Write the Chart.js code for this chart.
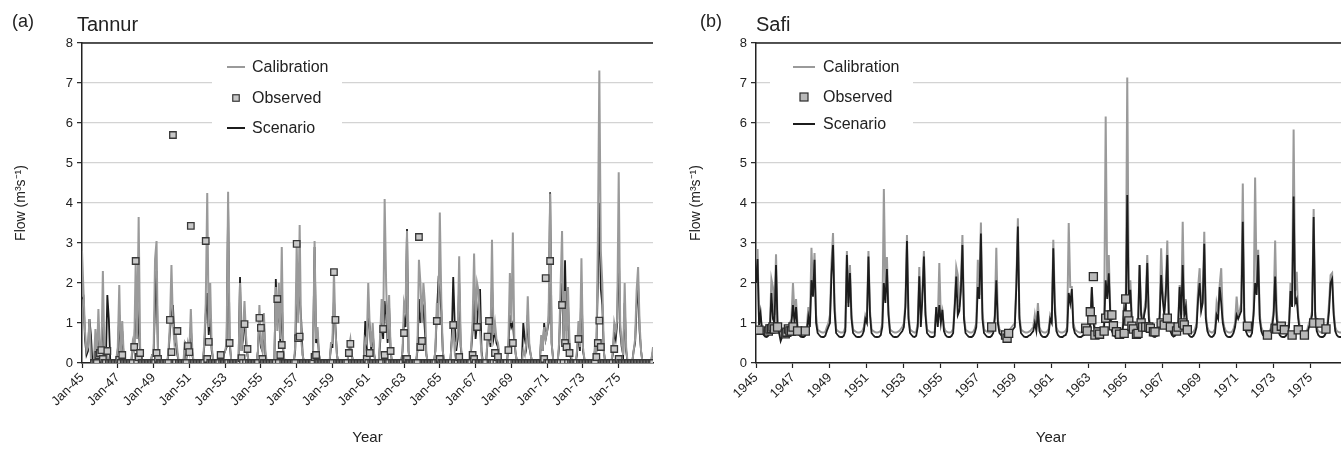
<!DOCTYPE html>
<html>
<head>
<meta charset="utf-8">
<script src="https://cdn.jsdelivr.net/npm/chart.js@4.4.1/dist/chart.umd.min.js"></script>
<style>
  html, body { margin: 0; padding: 0; background: #fff; width: 1341px; height: 453px; overflow: hidden; position: relative; }
  canvas { position: absolute; top: 0; }
  #tannur { left: 0; }
  #safi { left: 680px; }
  .panel-tag, .panel-name { position: absolute; font-family: 'Liberation Sans', Arial, sans-serif; color: #222; line-height: 22px; }
  .panel-tag { font-size: 18px; }
  .panel-name { font-size: 20px; }
</style>
</head>
<body>
<canvas id="tannur" width="670" height="453"></canvas>
<canvas id="safi" width="680" height="453"></canvas>
<div class="panel-tag" style="left:12px; top:10px;">(a)</div>
<div class="panel-name" style="left:77px; top:13px;">Tannur</div>
<div class="panel-tag" style="left:700px; top:10px;">(b)</div>
<div class="panel-name" style="left:756px; top:13px;">Safi</div>
<script>
// Monthly flows, January 1945 to December 1976, one row of twelve months per year.
const tickLabelsTannur = ['Jan-45','Jan-47','Jan-49','Jan-51','Jan-53','Jan-55','Jan-57','Jan-59',
  'Jan-61','Jan-63','Jan-65','Jan-67','Jan-69','Jan-71','Jan-73','Jan-75'];
const tickLabelsSafi = ['1945','1947','1949','1951','1953','1955','1957','1959',
  '1961','1963','1965','1967','1969','1971','1973','1975'];

const calibrationTannur = [
  2.8,1.8,0.8,0.3,0.4,1.1,0.1,0,0,0.85,0.1,1.35,
  0.3,0.2,2.3,0.3,0,0.2,0,0,0,0,0,0.1,
  0.4,1.95,0.2,1.05,0.2,0,0,0,0,0,0.5,0.3,
  2.5,0.6,3.65,0.4,0.1,0,0,0,0,0,0,0.2,
  0.2,2.6,3.05,0.2,0,0,0,0,0,0,0.3,1.0,
  2.45,1.0,0.5,0.7,0.3,0,0,0,0,0.55,0.2,0.5,
  0.3,1.35,0.3,0,0,0,0,0,0,0,0.5,1.5,
  4.25,0.9,2.0,0.4,0.1,0,0,0,0,0,0,0.2,
  0.3,0.5,4.28,0.6,0.1,0,0,0,0,0,2.0,0.3,
  0.8,1.55,0.7,0.2,0,0,0,0,0,0,0.3,1.45,
  0.5,0.3,1.25,0.3,0,0,0,0,0,0,1.9,0.8,
  2.0,0.6,2.9,0.3,0,0,0,0,0,0,0,0.4,
  3.0,1.0,3.45,0.6,0.2,0,0,0,0,0,0,0.3,
  3.05,0.6,0.9,0.2,0,0,0,0,0,0,0,0.5,
  0.5,2.3,0.8,0.2,0,0,0,0,0,0,0,0.4,
  0.6,0.2,0,0,0,0,0,0,0,0,0.6,0.5,
  2.0,0.9,0.4,1.0,0.2,0,0,0,0.7,1.6,0.8,4.1,
  2.0,0.6,1.7,0.3,0,0,0,0,0,0,0,0.3,
  1.5,1.3,3.3,0.3,0,0,0,0,0,0.4,2.58,2.0,
  1.0,2.0,1.5,0.2,0,0,0,0,0,0.3,1.5,1.0,
  3.76,1.6,0.3,0,0,0,0,0,0.5,0.9,0.3,0.5,
  0.8,2.67,0.5,0.1,0,0,0,0,0,0.4,1.05,2.74,
  1.0,2.0,1.8,0.8,0.2,0,0,0,0.6,1.0,0.5,3.08,
  0.7,1.0,0.6,0.5,0.2,0,0,0,0,0,0.5,2.25,
  1.0,3.26,0.6,0.2,0,0,0,0,0.3,0.2,0.5,1.67,
  0.5,0.2,0,0,0,0,0,0,0.7,0.3,0.9,0.6,
  0.8,1.2,4.24,0.5,0.1,0,0,0,0.5,1.9,3.3,0.6,
  1.8,0.5,1.9,0.5,0.2,0,0,0,0.3,1.05,0.4,2.62,
  0.4,0.1,0,0,0,0,0,0,0.4,0.3,3.0,7.31,
  2.8,2.0,0.3,0,0,0,0,0,0.3,1.0,0.8,1.1,
  4.77,1.0,0.5,0.2,2.0,0.4,0,0,0,0,0.3,0.6,
  1.8,2.4,1.0,0.3,0,0,0,0,0,0,0.1,0.4
];

const scenarioTannur = [
  1.6,1.65,0.6,0.2,0.3,1.1,0.7,0,0,0.5,0.1,0.9,
  0.3,0.2,1.2,0.2,0,1.7,1.1,0,0,0,0,0.1,
  0.3,1.2,0.2,0.8,0.1,0,0,0,0,0,0.4,0.3,
  1.5,1.5,0.85,0.3,0.1,0,0,0,0,0,0,0.2,
  0.2,1.5,2.3,0.1,0,0,0,0,0,0,0.2,0.8,
  1.2,1.45,0.6,0.5,0.2,0,0,0,0,0.4,0.1,0.4,
  0.3,0.9,0.2,0,0,0,0,0,0,0,0.4,1.2,
  1.75,0.7,1.2,0.3,0.1,0,0,0,0,0,0,0.2,
  0.3,0.4,3.9,0.5,0.1,0,0,0,0,0,2.15,0.3,
  0.6,1.2,0.5,0.2,0,0,0,0,0,0,0.3,1.1,
  0.4,0.3,1.0,0.2,0,0,0,0,0,0,2.1,1.0,
  1.4,0.5,1.6,0.3,0,0,0,0,0,0,0,0.3,
  2.0,1.7,1.6,1.1,0.2,0,0,0,0,0,0,0.3,
  2.9,0.5,0.7,0.2,0,0,0,0,0,0,0,0.4,
  0.4,1.6,0.9,0.2,0,0,0,0,0,0,0,0.3,
  0.5,0.2,0,0,0,0,0,0,0,0,1.05,0.3,
  1.3,0.9,0.3,0.8,0.2,0,0,0,0.5,1.2,0.6,1.55,
  1.2,0.5,1.4,0.3,0,0,0,0,0,0,0,0.3,
  1.1,0.9,3.35,0.3,0,0,0,0,0,0.3,1.6,1.0,
  1.3,1.4,0.8,0.2,0,0,0,0,0,0.3,1.2,2.0,
  1.8,1.3,0.3,0,0,0,0,0,0.6,2.15,1.0,0.3,
  0.6,2.0,0.4,0.1,0,0,0,0,0,0.3,0.8,1.74,
  0.6,1.0,1.5,1.85,0.3,0,0,0,0.5,0.8,0.4,2.0,
  0.6,0.8,0.5,0.4,0.2,0,0,0,0,0,0.4,1.2,
  0.9,1.0,0.5,0.2,0,0,0,0,1.0,0.6,0.4,1.2,
  0.4,0.2,0,0,0,0,0,0,0.6,0.3,1.0,0.6,
  0.8,1.0,4.27,0.5,0.1,0,0,0,0.4,1.5,2.0,0.6,
  2.57,0.8,1.5,0.3,0.1,0,0,0,0.2,0.8,0.3,2.0,
  0.3,0.1,0,0,0,0,0,0,0.3,0.3,2.0,4.0,
  1.85,1.45,0.3,0,0,0,0,0,0.2,0.8,0.6,1.0,
  3.0,0.8,0.4,0.2,1.5,0.3,0,0,0,0,0.3,0.5,
  1.4,2.0,0.8,0.3,0,0,0,0,0,0,0.1,0.3
];

const observedTannur = [
  null,null,null,null,null,null,null,null,0,0,0,0.2,
  0.25,0.32,0.1,0,0,0.3,0,0,0,0,0,0,
  0,0.08,0,0.2,0,0,0,0,0,0,0,0.4,
  2.55,0,0.15,0.25,0,0,0,0,0,0,0,0,
  0,0,0.25,0.1,0,0,0,0,0,0,0,1.08,
  0.27,5.7,0,0,0.8,0,0,0,0,0,0,0.42,
  0.27,3.43,0,0,0,0,0,0,0,0,0,3.05,
  0.1,0.53,0,0,0,0,0,0,0,0.2,0,0,
  0,0,0,0.5,0,0,0,0,0,0,0,0.12,
  0,0.97,0,0.35,0,0,0,0,0,0,0,1.13,
  0.88,0.1,0,0,0,0,0,0,0,0,0,1.6,
  0,0.2,0.45,0,0,0,0,0,0,0,0,0,
  2.98,0.62,0.66,0,0,0,0,0,0,0,0,0,
  0.15,0.2,0,0,0,0,0,0,0,0,0,0,
  0,2.27,1.08,0,0,0,0,0,0,0,0,0.25,
  0.48,0,0,0,0,0,0,0,0,0,0,0.1,
  0,0.25,0,0,0,0,0,0,0,0,0.85,0.2,
  0,0,0,0.3,0,0,0,0,0,0,0,0,
  0.75,0.1,0.1,0,0,0,0,0,0,0,3.15,0.4,
  0.55,0,0,0,0,0,0,0,0,0,1.05,0,
  0.1,0,0,0,0,0,0,0,0,0.95,0,0,
  0,0.15,0,0,0,0,0,0,0,0,0.2,0.1,
  0,0.9,0,0,0,0,0,0,0.66,1.05,0,0,
  0,0.25,0,0.15,0,0,0,0,0,0,0.32,0,
  0,0.5,0,0,0,0,0,0,0,0,0,0,
  0,0,0,0,0,0,0,0,0,0,0.1,2.12,
  0,0,2.55,0,0,0,0,0,0,0,1.45,0,
  0.5,0.4,0,0.25,0,0,0,0,0,0.6,0,0,
  0,0,0,0,0,0,0,0,0,0.15,0.5,1.06,
  0.4,0,0,0,0,0,0,0,0,0.35,0,0,
  0.1,0,0,0,0,0,0,0,0,0,0,0,
  0,0,0,0,0,0,0,0,0,0,0,0
];

const calibrationSafi = [
  2.1,2.85,1.0,1.1,0.85,0.8,0.78,0.76,0.78,0.9,2.1,1.9,
  1.2,2.72,1.0,0.85,0.78,0.78,0.76,0.76,0.78,0.85,1.0,1.1,
  2.0,1.2,1.6,0.9,0.8,0.78,0.76,0.76,0.78,0.9,1.4,1.0,
  2.88,1.8,2.75,1.2,0.85,0.8,0.78,0.76,0.76,0.78,0.9,1.0,
  1.2,2.5,3.25,1.5,0.85,0.8,0.78,0.76,0.76,0.78,0.9,2.8,
  1.5,2.45,1.2,0.85,0.8,0.78,0.76,0.76,0.78,0.8,0.9,1.2,
  1.1,2.8,1.3,0.85,0.8,0.78,0.76,0.76,0.78,0.8,1.0,4.35,
  1.8,2.65,1.3,0.85,0.8,0.78,0.76,0.76,0.78,0.8,0.85,0.9,
  1.0,1.5,3.2,1.2,0.85,0.8,0.78,0.76,0.78,1.0,2.4,1.2,
  1.8,2.8,1.3,0.85,0.8,0.78,0.76,0.76,0.78,1.4,1.0,2.5,
  1.1,1.3,0.9,0.8,0.78,0.76,0.76,0.78,0.85,1.5,2.4,2.2,
  1.4,2.0,3.2,1.2,0.85,0.8,0.78,0.76,0.76,0.78,0.85,1.0,
  2.58,1.7,3.51,1.3,0.85,0.8,0.78,0.76,0.76,0.78,0.85,1.2,
  2.88,1.1,0.85,0.8,0.78,0.76,0.76,0.78,0.8,0.85,0.9,0.95,
  1.0,2.0,3.62,1.2,0.85,0.8,0.78,0.76,0.76,0.78,0.8,0.85,
  0.9,1.2,0.9,1.5,0.9,0.8,0.78,0.76,0.76,0.78,0.85,1.2,
  1.1,3.08,1.5,0.9,0.8,0.78,0.76,0.76,0.78,0.8,0.9,3.5,
  1.9,1.9,1.0,0.85,0.8,0.78,0.76,0.76,0.78,0.8,0.85,0.9,
  0.9,1.0,1.9,1.1,0.9,0.8,0.78,0.76,0.78,0.8,1.0,6.16,
  1.9,2.7,1.3,0.9,0.8,0.78,0.76,0.76,0.78,0.8,0.9,1.5,
  1.2,7.14,1.6,2.07,1.1,0.9,0.8,0.78,1.0,2.45,1.3,1.0,
  1.3,1.6,2.7,1.2,0.9,0.8,0.78,0.76,0.78,0.85,1.2,2.87,
  1.8,1.3,1.9,3.06,1.2,0.9,0.8,0.78,0.78,0.85,1.0,1.95,
  1.2,3.53,1.3,1.6,0.9,0.8,0.78,0.76,0.78,0.85,1.0,1.9,
  2.37,1.4,1.6,3.28,1.2,0.9,0.8,0.78,0.76,0.78,0.85,1.5,
  1.3,1.95,2.37,1.1,0.9,0.8,0.78,0.76,0.76,0.78,0.85,1.0,
  1.66,1.2,1.3,1.5,4.49,1.2,0.9,0.8,0.78,0.78,0.85,1.3,
  4.64,1.9,2.83,1.2,0.9,0.8,0.78,0.76,0.76,0.78,0.85,1.0,
  1.3,3.06,1.3,0.9,0.8,0.78,0.76,0.76,0.78,0.85,1.0,2.0,
  1.5,5.84,1.8,2.28,1.2,0.9,0.8,0.78,0.76,0.78,0.85,1.0,
  1.1,1.3,3.85,1.3,0.9,0.8,0.78,0.76,0.76,0.78,0.85,1.0,
  1.5,2.2,2.25,1.3,0.9,0.8,0.78,0.76,0.76,0.78,0.8,0.85
];

const scenarioSafi = [
  2.0,2.6,0.95,1.25,0.75,0.7,0.66,0.65,0.68,0.8,1.75,1.1,
  1.0,2.45,0.9,0.75,0.55,0.66,0.66,0.65,0.68,0.75,0.9,1.0,
  1.45,1.0,1.4,0.8,0.7,0.66,0.65,0.65,0.68,0.8,1.15,0.9,
  2.07,1.66,2.58,1.0,0.75,0.7,0.66,0.65,0.65,0.68,0.8,0.9,
  1.0,2.2,2.95,1.3,0.75,0.7,0.66,0.65,0.65,0.68,0.8,2.7,
  1.4,2.25,1.1,0.75,0.7,0.66,0.65,0.65,0.66,0.7,0.8,1.1,
  1.0,2.66,1.2,0.75,0.7,0.66,0.65,0.65,0.66,0.7,0.9,2.0,
  1.5,2.35,1.2,0.75,0.7,0.66,0.65,0.65,0.66,0.7,0.75,0.8,
  0.9,1.4,3.05,1.1,0.75,0.7,0.66,0.65,0.68,0.9,2.17,0.9,
  1.6,2.66,1.2,0.75,0.7,0.66,0.65,0.65,0.68,1.4,0.9,1.45,
  1.0,1.33,0.8,0.7,0.66,0.65,0.65,0.68,0.75,1.4,2.16,1.2,
  1.3,1.8,2.95,1.1,0.75,0.7,0.66,0.65,0.65,0.68,0.75,0.9,
  1.9,1.6,3.24,1.1,0.75,0.7,0.66,0.65,0.65,0.68,0.75,1.1,
  2.07,1.0,0.75,0.7,0.66,0.65,0.65,0.68,0.7,0.75,0.8,0.85,
  0.9,1.9,3.41,1.1,0.75,0.7,0.66,0.65,0.65,0.68,0.7,0.75,
  0.8,1.0,0.8,1.3,0.8,0.7,0.66,0.65,0.65,0.68,0.75,1.1,
  1.0,2.87,1.3,0.8,0.7,0.66,0.65,0.65,0.68,0.7,0.8,1.75,
  1.5,1.85,0.9,0.75,0.7,0.66,0.65,0.65,0.68,0.7,0.75,0.8,
  0.8,0.9,1.9,1.0,0.8,0.7,0.66,0.65,0.68,0.7,0.9,2.07,
  1.6,2.24,1.2,0.8,0.7,0.66,0.65,0.65,0.68,0.7,0.8,1.3,
  1.0,4.2,1.5,1.83,1.0,0.8,0.7,0.66,0.9,2.45,1.2,0.9,
  1.2,1.4,2.5,1.1,0.8,0.7,0.66,0.65,0.68,0.75,1.1,2.2,
  1.6,1.2,1.7,2.7,1.1,0.8,0.7,0.66,0.68,0.75,0.9,1.9,
  1.1,2.45,1.2,1.4,0.8,0.7,0.66,0.65,0.68,0.75,0.9,1.6,
  2.0,1.3,1.5,2.98,1.1,0.8,0.7,0.66,0.65,0.68,0.75,1.2,
  1.1,1.9,1.5,1.0,0.8,0.7,0.66,0.65,0.65,0.68,0.75,0.9,
  1.2,1.1,1.2,1.3,3.53,1.1,0.8,0.7,0.66,0.66,0.75,1.2,
  2.0,1.7,2.7,1.1,0.8,0.7,0.66,0.65,0.65,0.68,0.75,0.9,
  1.2,2.16,1.1,0.8,0.7,0.66,0.65,0.65,0.68,0.75,0.9,1.8,
  1.4,4.16,1.5,1.6,1.1,0.8,0.7,0.66,0.65,0.68,0.75,0.9,
  1.0,1.2,3.65,1.2,0.8,0.7,0.66,0.65,0.65,0.68,0.75,0.9,
  1.3,2.0,2.1,1.2,0.8,0.7,0.66,0.65,0.65,0.68,0.7,0.75
];

// Observed Safi flows: [month index from Jan 1945, value]
const observedSafi = [
  [2,0.82],[8,0.8],[9,0.85],[10,0.86],[11,0.9],[12,0.85],[14,0.9],[19,0.73],[20,0.77],
  [21,0.85],[22,0.8],[23,0.8],[24,0.9],[27,0.8],[32,0.8],
  [153,0.9],[162,0.7],[163,0.62],[164,0.74],
  [214,0.87],[215,0.8],[217,1.28],[218,1.08],[219,2.16],[220,0.7],[222,0.78],[223,0.72],
  [226,0.8],[227,1.12],[229,1.2],[231,1.2],[232,0.93],[234,0.78],[236,0.72],[239,0.74],
  [240,1.6],[241,1.2],[242,1.05],[244,0.92],[245,0.85],[247,0.72],[248,0.74],[250,1.0],
  [251,0.9],[253,0.9],[255,0.9],[256,0.87],[258,0.78],[259,0.78],[263,1.0],[265,0.95],
  [267,1.12],[269,0.9],[273,0.8],[274,0.9],[277,1.0],[278,0.95],[280,0.83],
  [319,0.92],[332,0.7],[337,0.87],[338,0.85],[341,0.92],[343,0.83],[348,0.7],
  [352,0.83],[356,0.7],[362,1.0],[366,1.0],[370,0.85]
];

const FONT = "'Liberation Sans', Arial, Helvetica, sans-serif";
Chart.defaults.font.family = FONT;
Chart.defaults.color = '#222';

const toPoints = values => values.map((v, i) => ({ x: i, y: v }));

// white legend panel behind the series, framed top edge and legend entries on top
const plotDecor = {
  id: 'plotDecor',
  beforeDatasetsDraw(chart, args, o) {
    const ctx = chart.ctx, b = o.box;
    ctx.save();
    ctx.fillStyle = '#fff';
    ctx.fillRect(b.x, b.y, b.w, b.h);
    ctx.restore();
  },
  afterDatasetsDraw(chart, args, o) {
    const ctx = chart.ctx, a = chart.chartArea;
    ctx.save();
    ctx.strokeStyle = '#222';
    ctx.lineWidth = 1.5;
    ctx.beginPath();
    ctx.moveTo(a.left, a.top);
    ctx.lineTo(a.right, a.top);
    ctx.stroke();
    ctx.font = o.fontSize + 'px ' + FONT;
    ctx.textBaseline = 'middle';
    ctx.textAlign = 'left';
    o.items.forEach(it => {
      if (it.kind === 'line') {
        ctx.strokeStyle = it.color;
        ctx.lineWidth = it.width;
        ctx.beginPath();
        ctx.moveTo(o.symX0, it.y);
        ctx.lineTo(o.symX1, it.y);
        ctx.stroke();
      } else {
        const s = it.size, cx = (o.symX0 + o.symX1) / 2;
        ctx.fillStyle = it.fill;
        ctx.fillRect(cx - s / 2, it.y - s / 2, s, s);
        ctx.strokeStyle = it.stroke;
        ctx.lineWidth = 1.2;
        ctx.strokeRect(cx - s / 2, it.y - s / 2, s, s);
      }
      ctx.fillStyle = '#222';
      ctx.fillText(it.label, o.textX, it.y + 1);
    });
    ctx.restore();
  }
};

function flowChart(canvasId, p) {
  const lastIndex = p.calibration.length - 1;
  return new Chart(document.getElementById(canvasId), {
    type: 'line',
    data: {
      datasets: [
        {
          label: 'Observed',
          data: toPoints(p.observed),
          showLine: false,
          pointStyle: 'rect',
          pointRadius: p.markerRadius,
          pointBackgroundColor: p.markerFill,
          pointBorderColor: p.markerStroke,
          pointBorderWidth: 1.3,
          order: 0
        },
        {
          label: 'Calibration',
          data: toPoints(p.calibration),
          borderColor: '#9a9a9a',
          borderWidth: 2,
          pointRadius: 0,
          tension: 0,
          order: p.calibrationOrder
        },
        {
          label: 'Scenario',
          data: toPoints(p.scenario),
          borderColor: '#1c1c1c',
          borderWidth: 1.8,
          pointRadius: 0,
          tension: 0,
          order: p.scenarioOrder
        }
      ]
    },
    options: {
      responsive: false,
      devicePixelRatio: 1,
      animation: false,
      events: [],
      layout: { padding: { left: 0, right: p.rightPad, top: 43, bottom: 0 } },
      scales: {
        x: {
          type: 'linear',
          min: 0,
          max: lastIndex,
          offset: false,
          afterBuildTicks: scale => { scale.ticks = p.tickLabels.map((_, i) => ({ value: i * 24 })); },
          afterFit: scale => { scale.height = 90; },
          ticks: {
            autoSkip: false,
            maxRotation: 45,
            minRotation: 45,
            padding: 2,
            font: { size: 13 },
            color: '#222',
            callback: (v, i) => p.tickLabels[i]
          },
          grid: { display: true, drawOnChartArea: false, drawTicks: true, tickLength: 5, tickColor: '#222', tickWidth: 1.2 },
          border: { display: true, color: '#222', width: 1.5 },
          title: { display: true, text: 'Year', font: { size: 15 }, color: '#222', padding: { top: 0, bottom: 6 } }
        },
        y: {
          min: 0,
          max: 8,
          afterFit: scale => { scale.width = p.yAxisWidth; },
          ticks: { stepSize: 1, font: { size: 13 }, color: '#222', padding: 4 },
          grid: { color: '#d3d3d3', lineWidth: 1.3, tickLength: 5, tickColor: '#222', tickWidth: 1.2 },
          border: { display: true, color: '#222', width: 1.5 },
          title: { display: true, text: 'Flow (m³s⁻¹)', font: { size: 14 }, color: '#222', padding: { top: p.yTitlePad, bottom: 0 } }
        }
      },
      plugins: {
        legend: { display: false },
        tooltip: { enabled: false },
        plotDecor: p.legend
      }
    },
    plugins: [plotDecor]
  });
}

const observedSafiSeries = calibrationSafi.map(() => null);
observedSafi.forEach(([m, v]) => { observedSafiSeries[m] = v; });

flowChart('tannur', {
  calibration: calibrationTannur,
  scenario: scenarioTannur,
  observed: observedTannur,
  tickLabels: tickLabelsTannur,
  yAxisWidth: 82,
  rightPad: 17,
  yTitlePad: 13,
  calibrationOrder: 1,
  scenarioOrder: 2,
  markerRadius: 4.6,
  markerFill: '#c8c8c8',
  markerStroke: '#383838',
  legend: {
    box: { x: 212, y: 50, w: 130, h: 90 },
    symX0: 227, symX1: 245, textX: 252, fontSize: 16,
    items: [
      { kind: 'line', label: 'Calibration', y: 67, color: '#9a9a9a', width: 2 },
      { kind: 'marker', label: 'Observed', y: 98, size: 6.5, fill: '#c8c8c8', stroke: '#383838' },
      { kind: 'line', label: 'Scenario', y: 128, color: '#1c1c1c', width: 2 }
    ]
  }
});

flowChart('safi', {
  calibration: calibrationSafi,
  scenario: scenarioSafi,
  observed: observedSafiSeries,
  tickLabels: tickLabelsSafi,
  yAxisWidth: 76,
  rightPad: 14,
  yTitlePad: 8,
  calibrationOrder: 2,
  scenarioOrder: 1,
  markerRadius: 5.7,
  markerFill: '#b8b8b8',
  markerStroke: '#2a2a2a',
  legend: {
    box: { x: 90, y: 50, w: 143, h: 88 },
    symX0: 113, symX1: 135, textX: 143, fontSize: 16,
    items: [
      { kind: 'line', label: 'Calibration', y: 67, color: '#9a9a9a', width: 2 },
      { kind: 'marker', label: 'Observed', y: 97, size: 8, fill: '#b8b8b8', stroke: '#2a2a2a' },
      { kind: 'line', label: 'Scenario', y: 124, color: '#1c1c1c', width: 2 }
    ]
  }
});
</script>
</body>
</html>
